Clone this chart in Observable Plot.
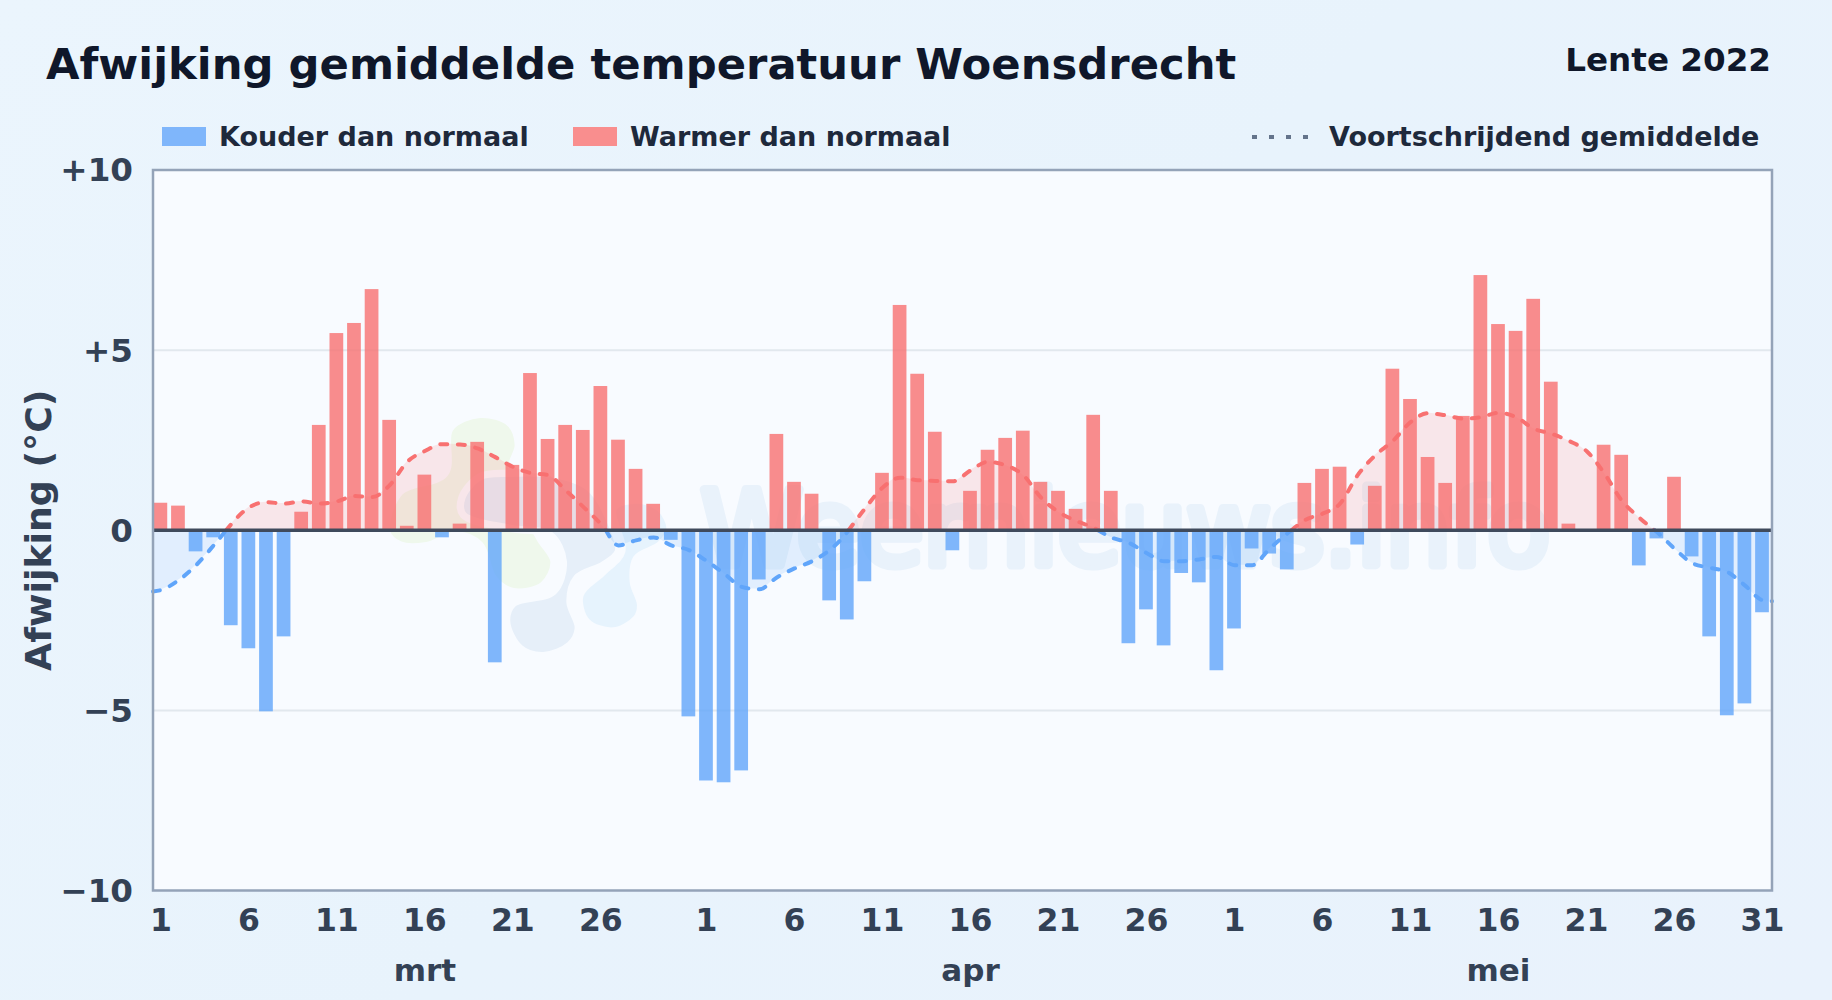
<!DOCTYPE html>
<html><head><meta charset="utf-8">
<script src="https://cdn.jsdelivr.net/npm/d3@7"></script>
<script src="https://cdn.jsdelivr.net/npm/@observablehq/plot@0.6"></script>
<style>
html,body{margin:0;padding:0;width:1832px;height:1000px;overflow:hidden}
body{background:linear-gradient(135deg,#ebf5fd 0%,#e8f3fc 50%,#e9f2fc 100%);font-family:"DejaVu Sans",sans-serif;font-weight:700;position:relative}
.t{position:absolute;white-space:nowrap;line-height:1}
.sw{position:absolute;width:44px;height:19px}
#chart{position:absolute;left:0;top:150px}
svg{display:block}
</style></head><body>
<div class="t" style="left:46px;top:43px;font-size:43.3px;color:#0f172a">Afwijking gemiddelde temperatuur Woensdrecht</div>
<div class="t" style="right:61px;top:44px;font-size:32.6px;color:#0f172a">Lente 2022</div>
<div class="sw" style="left:162px;top:127px;background:#7fb6fb"></div>
<div class="t" style="left:219px;top:123px;font-size:27px;color:#1e293b">Kouder dan normaal</div>
<div class="sw" style="left:573px;top:127px;background:#f98e8e"></div>
<div class="t" style="left:630px;top:123px;font-size:27px;color:#1e293b">Warmer dan normaal</div>
<svg style="position:absolute;left:1250px;top:130px" width="60" height="14"><line x1="2" x2="58" y1="7" y2="7" stroke="#64748b" stroke-width="4" stroke-dasharray="5 12"/></svg>
<div class="t" style="left:1329px;top:123px;font-size:27px;color:#1e293b">Voortschrijdend gemiddelde</div>
<div id="chart"></div>
<script>
const mrt = [0.75,0.67,-0.6,-0.21,-2.65,-3.29,-5.04,-2.96,0.5,2.91,5.46,5.74,6.68,3.05,0.11,1.53,-0.21,0.17,2.44,-3.68,1.8,4.35,2.52,2.91,2.77,3.99,2.5,1.69,0.72,-0.28,-5.18];
const apr = [-6.96,-7.01,-6.68,-1.38,2.66,1.33,1.0,-1.96,-2.49,-1.43,1.58,6.24,4.33,2.72,-0.57,1.08,2.22,2.55,2.75,1.33,1.08,0.58,3.19,1.08,-3.15,-2.21,-3.21,-1.2,-1.46,-3.9];
const mei = [-2.74,-0.52,-0.66,-1.1,1.3,1.69,1.75,-0.41,1.22,4.47,3.63,2.02,1.3,3.16,7.07,5.71,5.52,6.41,4.11,0.17,-0.05,2.36,2.08,-0.99,-0.24,1.47,-0.74,-2.96,-5.15,-4.82,-2.29];
const gemiddeld = [-1.70,-1.66,-1.39,-0.97,-0.42,0.17,0.63,0.78,0.74,0.80,0.74,0.80,0.95,0.92,1.25,1.90,2.2,2.39,2.38,2.27,2.03,1.76,1.59,1.53,1.11,0.65,0.17,-0.42,-0.28,-0.20,-0.42,-0.55,
 -0.85,-1.2,-1.57,-1.64,-1.31,-1.06,-0.86,-0.55,-0.05,0.6,1.18,1.46,1.39,1.37,1.36,1.66,1.9,1.8,1.53,0.91,0.51,0.26,0.07,-0.2,-0.35,-0.63,-0.86,-0.86,-0.81,-0.74,
 -0.97,-0.97,-0.51,-0.09,0.28,0.46,0.74,1.53,2.08,2.48,3.0,3.25,3.19,3.1,3.14,3.26,3.14,2.82,2.68,2.48,2.2,1.59,0.83,0.35,-0.05,-0.51,-0.91,-1.04,-1.16,-1.53,-1.94,-1.97];
const maanden = ["mrt","apr","mei"];
const maandDagen = [mrt.length, apr.length, mei.length];
const dagLabels = [1,6,11,16,21,26];
const yTicks = [-10,-5,0,5,10];
const BLUE = "#60a5fa", RED = "#f87171";
const values = [...mrt,...apr,...mei];
const bars = values.map((v,i)=>({i,v}));
const xMin=-0.057, xMax=91.93, mid=0.39, barW=0.78;
// moving average: first and last value sit on the frame edges
const maX = [xMin, ...values.map((_,i)=>i+mid), xMax];
let run=0; const pts=[];
gemiddeld.forEach((v,k)=>{
  const x=maX[k];
  if(k>0){const pv=gemiddeld[k-1],px=maX[k-1];
    if(pv*v<0){const t=pv/(pv-v),cx=px+t*(x-px);
      pts.push({x:cx,v:0,run,neg:pv<0}); run++; pts.push({x:cx,v:0,run,neg:v<0});}}
  pts.push({x,v,run,neg:v<0});
});
// tick positions
const ticks=[],tickLab={},monthPos=[];
let off=0;
maandDagen.forEach((n,m)=>{
  const labs = n===31&&m===2 ? [...dagLabels,31] : dagLabels;
  labs.forEach(d=>{const p=off+d-1+mid;ticks.push(p);tickLab[p]=String(d);});
  monthPos.push({x:off+15+mid,t:maanden[m]});
  off+=n;
});
const logo=()=>{
  const g=d3.create("svg:g").attr("transform","translate(370,245) scale(0.3333)").attr("stroke","#f8fbff").attr("stroke-width",22);
  const L=d3.line().curve(d3.curveCatmullRomClosed.alpha(0.5));
  const shapes=[
   ["#eff8ec",[[240,100],[330,58],[420,85],[445,150],[425,215],[440,300],[510,430],[552,500],[520,570],[430,590],[370,550],[330,450],[260,420],[170,452],[90,450],[50,410],[90,290],[225,235]]],
   ["#e6eff9",[[275,310],[280,360],[420,400],[540,420],[580,500],[550,590],[430,625],[410,680],[450,760],[520,782],[600,750],[625,700],[600,620],[620,550],[700,510],[745,470],[730,400],[660,280],[560,240],[420,235],[330,245]]],
   ["#e6f3fd",[[630,600],[650,680],[730,708],[800,670],[812,630],[790,560],[800,490],[870,450],[900,400],[870,340],[800,315],[730,340],[755,470],[700,530]]]
  ];
  shapes.forEach(([c,p])=>g.append("path").attr("d",L(p)).attr("fill",c));
  return g.node();
};
const plot=Plot.plot({
  width:1832,height:850,
  marginLeft:152.5,marginRight:60.5,marginTop:19.5,marginBottom:110,
  style:{background:"transparent",fontFamily:"'DejaVu Sans',sans-serif",fontWeight:700,overflow:"visible"},
  x:{type:"linear",domain:[xMin,xMax],axis:null},
  y:{domain:[-10,10],axis:null},
  marks:[
    Plot.frame({fill:"#f8fbff",stroke:null}),
    logo,
    Plot.text(["Weernieuws.info"],{x:[55.2],y:[-0.97],text:d=>d,fontSize:103,fontWeight:400,fill:"#e9f2fb",stroke:"#e9f2fb",strokeWidth:9,lineAnchor:"bottom",textAnchor:"middle"}),
    Plot.ruleY([-5,5],{stroke:"#e2e8ee",strokeWidth:2}),
    Plot.areaY(pts,{x:"x",y1:0,y2:"v",z:"run",fill:d=>d.neg?BLUE:RED,fillOpacity:0.15,curve:"monotone-x"}),
    Plot.lineY(pts,{x:"x",y:"v",z:"run",stroke:d=>d.neg?BLUE:RED,strokeWidth:4,strokeDasharray:"7 10.6",strokeLinecap:"round",curve:"monotone-x"}),
    Plot.rect(bars,{x1:"i",x2:d=>d.i+barW,y1:0,y2:"v",fill:d=>d.v<0?BLUE:RED,fillOpacity:0.8}),
    Plot.ruleY([0],{stroke:"#3f4a5c",strokeWidth:3.5}),
    Plot.frame({stroke:"#94a3b8",strokeWidth:2.5}),
    Plot.axisY({ticks:yTicks,tickSize:0,tickPadding:20,fontSize:32.6,fontWeight:700,fill:"#334155",label:null,dy:1,
      tickFormat:d=>d>0?"+"+d:d<0?"\u2212"+(-d):"0"}),
    Plot.axisX({ticks,tickSize:0,tickPadding:18,fontSize:31.5,fontWeight:700,fill:"#334155",label:null,tickFormat:d=>tickLab[d]}),
    Plot.text(monthPos,{x:"x",text:"t",frameAnchor:"bottom",dy:90,fontSize:31,fontWeight:700,fill:"#334155"}),
    Plot.text(["Afwijking (\u00b0C)"],{frameAnchor:"left",dx:-114,rotate:-90,textAnchor:"middle",fontSize:36.3,fontWeight:700,fill:"#334155",text:d=>d})
  ]
});
document.getElementById("chart").appendChild(plot);
</script>
</body></html>
